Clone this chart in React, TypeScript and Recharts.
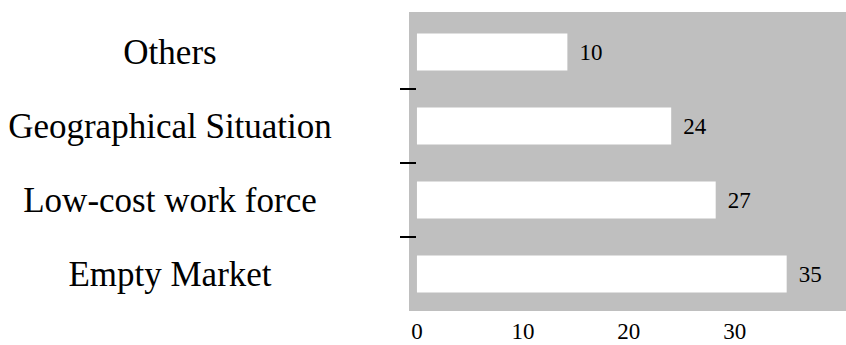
import React from 'react';
import {
  BarChart,
  Bar,
  XAxis,
  YAxis,
  CartesianGrid,
  LabelList,
} from 'recharts';

// reasons, top to bottom
const categories = ['Others', 'Geographical Situation', 'Low-cost work force', 'Empty Market'];
// bar lengths as drawn
const barValues = [14.2, 24, 28.2, 34.9];
// numbers printed next to the bars
const valueLabels = ['10', '24', '27', '35'];
const xTicks = [0, 10, 20, 30];

const rows = categories.map((name, i) => ({ name, value: barValues[i], label: valueLabels[i] }));

const serif = '"Liberation Serif", "Times New Roman", serif';
const LABEL_CENTER = 170;

// category label, plus a short tick mark on the boundary above every band but the first
const CategoryTick = (props: any) => {
  const { y, payload, index } = props;
  const edge = y - (payload.offset || 0);
  return (
    <g>
      {index > 0 && <line x1={400} x2={416} y1={edge} y2={edge} stroke="#000" strokeWidth={2} />}
      <text
        x={LABEL_CENTER}
        y={y}
        dy="0.35em"
        textAnchor="middle"
        fontFamily={serif}
        fontSize={35}
        fill="#000"
      >
        {payload.value}
      </text>
    </g>
  );
};

export default function App() {
  return (
    <div style={{ width: 846, height: 345 }}>
      <style>{'html, body { margin: 0; padding: 0; overflow: hidden; }'}</style>
      <BarChart
        width={846}
        height={345}
        data={rows}
        layout="vertical"
        margin={{ top: 12, right: 0, bottom: 0, left: 0 }}
        barCategoryGap="25%"
      >
        <CartesianGrid fill="#bfbfbf" stroke="none" horizontal={false} vertical={false} />
        <YAxis
          type="category"
          dataKey="name"
          width={409}
          padding={{ top: 3, bottom: 0 }}
          axisLine={false}
          tickLine={false}
          tick={<CategoryTick />}
        />
        <XAxis
          type="number"
          domain={[-0.75, 40.5]}
          ticks={xTicks}
          allowDataOverflow
          height={34}
          axisLine={false}
          tickLine={false}
          tickSize={0}
          tickMargin={12}
          tick={{ fontFamily: serif, fontSize: 23, fill: '#000' }}
        />
        <Bar dataKey="value" fill="#ffffff" isAnimationActive={false}>
          <LabelList
            dataKey="label"
            position="right"
            offset={12}
            fontFamily={serif}
            fontSize={23}
            fill="#000"
          />
        </Bar>
      </BarChart>
    </div>
  );
}
